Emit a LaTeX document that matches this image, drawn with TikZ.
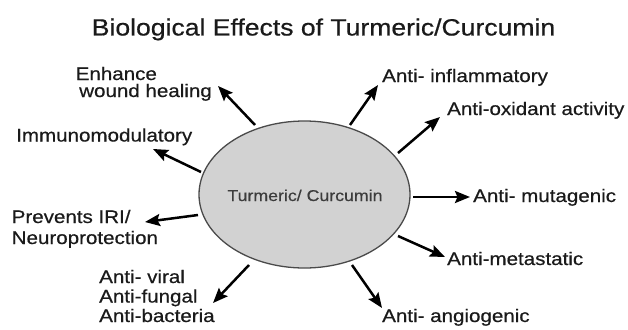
\documentclass[tikz,border=0pt]{standalone}
\usepackage{fontspec}
\setmainfont{Liberation Sans}[FakeStretch=1.13,FakeBold=0.5]
\usetikzlibrary{arrows.meta,shapes.geometric}
\definecolor{txt}{HTML}{1A1A1A}
\definecolor{ellfill}{HTML}{D2D2D2}
\definecolor{elldraw}{HTML}{4A4A4A}
\tikzset{
  lbl/.style={anchor=base west,inner sep=0pt,text=txt,font=\fontsize{18.2}{20}\selectfont},
  arr/.style={line width=2.5pt,-{Stealth[length=15pt,width=12pt,inset=2.5pt]},black},
}
\begin{document}
\begin{tikzpicture}[x=1pt,y=-1pt]
\useasboundingbox[fill=white] (0,0) rectangle (628,329);
% title
\node[anchor=base,inner sep=0pt,text=txt,font=\fontsize{23.5}{26}\selectfont] (title) at (323.5,35.5) {Biological Effects of Turmeric/Curcumin};
% central ellipse
\node[ellipse,draw=elldraw,line width=1.3pt,fill=ellfill,minimum width=211pt,minimum height=147pt,inner sep=0pt] (c) at (304.5,194.5) {};
\node[anchor=base,inner sep=0pt,text=txt!85,font=\fontsize{15.7}{18}\selectfont] (ctext) at (305,201) {Turmeric/ Curcumin};
% labels
\node[lbl] (enh1) at (75.5,80) {Enhance};
\node[lbl] (enh2) at (79,97) {wound healing};
\node[lbl] (imm) at (16,141.5) {Immunomodulatory};
\node[lbl] (prev1) at (11.5,223) {Prevents IRI/};
\node[lbl] (prev2) at (11.5,244) {Neuroprotection};
\node[lbl] (av1) at (99,283) {Anti- viral};
\node[lbl] (av2) at (99,302.5) {Anti-fungal};
\node[lbl] (av3) at (99,322) {Anti-bacteria};
\node[lbl] (angio) at (382,322) {Anti- angiogenic};
\node[lbl] (meta) at (447,265) {Anti-metastatic};
\node[lbl] (muta) at (473,202) {Anti- mutagenic};
\node[lbl] (oxid) at (447,115) {Anti-oxidant activity};
\node[lbl] (infl) at (382,82) {Anti- inflammatory};
% connector ends
\coordinate (t1) at (255,125); \coordinate (h1) at (218,86);
\coordinate (t2) at (201,172); \coordinate (h2) at (153,149);
\coordinate (t3) at (198,215); \coordinate (h3) at (145,222);
\coordinate (t4) at (249,265); \coordinate (h4) at (213,303);
\coordinate (t5) at (352,265); \coordinate (h5) at (382,308);
\coordinate (t6) at (398,236); \coordinate (h6) at (445,257);
\coordinate (t7) at (413,197); \coordinate (h7) at (470,197);
\coordinate (t8) at (398,153); \coordinate (h8) at (440,117);
\coordinate (t9) at (350,125); \coordinate (h9) at (378,85);
\foreach \i in {1,...,9} { \draw[arr] (t\i) -- (h\i); }
\end{tikzpicture}
\end{document}
